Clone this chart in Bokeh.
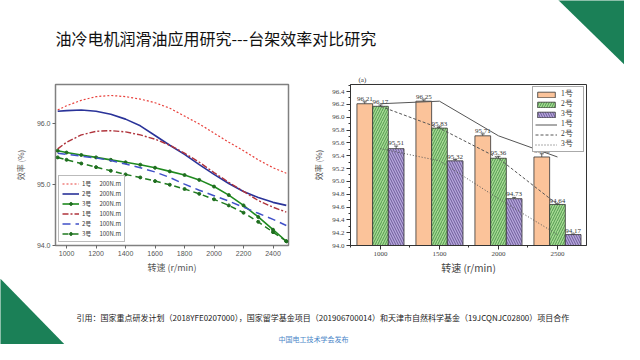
from bokeh.plotting import figure
from bokeh.layouts import column, row
from bokeh.models import (Range1d, ColumnDataSource, Legend, LegendItem, FixedTicker,
                          NumeralTickFormatter, Whisker, TeeHead)
from bokeh.core.properties import value
from bokeh.embed import file_html
from bokeh.resources import INLINE

# ---------------- data ----------------
slide_title = "油冷电机润滑油应用研究---台架效率对比研究"
footer_text = ("引用：国家重点研发计划（2018YFE0207000），国家留学基金项目（201906700014）"
               "和天津市自然科学基金（19JCQNJC02800）项目合作")
publisher = "中国电工技术学会发布"
x_label = "转速 (r/min)"
y_label = "效率 (%)"

# left chart: efficiency curves
speed = [940, 1000, 1100, 1200, 1300, 1400, 1500, 1600, 1700, 1800, 1900, 2000, 2100, 2200, 2300, 2400, 2490]
eff_1_200 = [96.23, 96.30, 96.39, 96.45, 96.47, 96.45, 96.41, 96.35, 96.26, 96.13, 96.00, 95.85, 95.70, 95.56, 95.41, 95.28, 95.19]
eff_2_200 = [96.21, 96.22, 96.23, 96.21, 96.16, 96.08, 95.97, 95.81, 95.65, 95.50, 95.33, 95.17, 95.02, 94.89, 94.79, 94.71, 94.66]
eff_3_200 = [95.56, 95.53, 95.49, 95.45, 95.41, 95.37, 95.33, 95.28, 95.22, 95.16, 95.08, 94.97, 94.83, 94.66, 94.47, 94.26, 94.07]
eff_1_100 = [95.59, 95.70, 95.82, 95.88, 95.89, 95.87, 95.82, 95.75, 95.65, 95.52, 95.37, 95.20, 95.04, 94.89, 94.74, 94.63, 94.55]
eff_2_100 = [95.52, 95.50, 95.47, 95.44, 95.40, 95.34, 95.28, 95.21, 95.12, 95.01, 94.91, 94.82, 94.73, 94.63, 94.53, 94.43, 94.33]
eff_3_100 = [95.45, 95.41, 95.35, 95.29, 95.23, 95.17, 95.12, 95.06, 95.00, 94.93, 94.85, 94.76, 94.66, 94.54, 94.39, 94.22, 94.07]
motor_names = ["1号", "2号", "3号", "1号", "2号", "3号"]
torque_names = ["200N.m", "200N.m", "200N.m", "100N.m", "100N.m", "100N.m"]
left_xticks = [1000, 1200, 1400, 1600, 1800, 2000, 2200, 2400]
left_yticks = [94.0, 95.0, 96.0]

# right chart: bench efficiency bars
bar_speeds = [1000, 1500, 2000, 2500]
bar_1 = [96.21, 96.25, 95.71, 95.38]
bar_2 = [96.17, 95.83, 95.36, 94.64]
bar_3 = [95.51, 95.32, 94.73, 94.17]
err_1 = [0.03, 0.02, 0.03, 0.05]
err_2 = [0.02, 0.02, 0.03, 0.01]
err_3 = [0.04, 0.02, 0.02, 0.01]
bar_names = ["1号", "2号", "3号"]
right_yticks = [94.0, 94.2, 94.4, 94.6, 94.8, 95.0, 95.2, 95.4, 95.6, 95.8, 96.0, 96.2, 96.4]
right_yminor = [94.1, 94.3, 94.5, 94.7, 94.9, 95.1, 95.3, 95.5, 95.7, 95.9, 96.1, 96.3, 96.5]
right_xminor = [750, 1250, 1750, 2250]
panel_tag = "(a)"

# decorative corner triangles (page pixel coordinates)
tri_top_x = [550, 632, 632]
tri_top_y = [-8, -8, 72]
tri_bot_x = [-8, -8, 72]
tri_bot_y = [270, 352, 352]

GREEN = "#1b8057"
CJK = value("Noto Sans CJK SC")
SERIF = value("Liberation Serif")

# ---------------- header ----------------
hdr = figure(width=624, height=66, x_range=Range1d(0, 624), y_range=Range1d(66, 0),
             output_backend="svg", toolbar_location=None, min_border=0,
             x_axis_location=None, y_axis_location=None)
hdr.grid.visible = False
hdr.outline_line_color = None
hdr.patch(tri_top_x, tri_top_y, fill_color=GREEN, line_color=None)
hdr.text(x=[55], y=[37], text=[slide_title], text_font=CJK, text_font_size="16px",
         text_baseline="middle", text_align="left", text_color="#111111")

# ---------------- left chart ----------------
pl = figure(width=302, height=211, x_range=Range1d(925, 2505), y_range=Range1d(94.0, 96.65),
            output_backend="svg", toolbar_location=None,
            min_border_left=55, min_border_right=14, min_border_top=9, min_border_bottom=27)
pl.grid.visible = False
pl.outline_line_color = "#808080"
pl.outline_line_width = 1.5
pl.xaxis.ticker = FixedTicker(ticks=left_xticks)
pl.yaxis.ticker = FixedTicker(ticks=left_yticks)
pl.yaxis.formatter = NumeralTickFormatter(format="0.0")
for ax in (pl.xaxis[0], pl.yaxis[0]):
    ax.axis_line_color = None
    ax.major_tick_line_color = "#666666"
    ax.major_tick_in = 0
    ax.major_tick_out = 3
    ax.minor_tick_line_color = None
    ax.major_label_text_font_size = "7px"
    ax.major_label_text_color = "#555555"
    ax.major_label_text_font = "Liberation Sans"
    ax.major_label_standoff = 2
    ax.axis_label_text_font = "Noto Sans CJK SC"
    ax.axis_label_text_font_style = "normal"
    ax.axis_label_text_color = "#555555"
pl.xaxis.axis_label = x_label
pl.xaxis.axis_label_text_font_size = "9px"
pl.xaxis.axis_label_standoff = 2
pl.yaxis.axis_label = y_label
pl.yaxis.axis_label_text_font_size = "8px"
pl.yaxis.axis_label_standoff = 8

src_l = ColumnDataSource(dict(x=speed, a=eff_1_200, b=eff_2_200, c=eff_3_200,
                              d=eff_1_100, e=eff_2_100, f=eff_3_100))
r_a = pl.line("x", "a", source=src_l, line_color="#e8413c", line_width=1.2, line_dash="2 2")
r_b = pl.line("x", "b", source=src_l, line_color="#2a3399", line_width=1.6)
r_c = pl.line("x", "c", source=src_l, line_color="#1f8a1f", line_width=1.6)
r_cm = pl.scatter("x", "c", source=src_l, size=3, marker="circle", color="#1f6e1f")
r_d = pl.line("x", "d", source=src_l, line_color="#b0343c", line_width=1.4, line_dash="6 2 2 2")
r_e = pl.line("x", "e", source=src_l, line_color="#4050c8", line_width=1.5, line_dash="8 5")
r_f = pl.line("x", "f", source=src_l, line_color="#1f7a1f", line_width=1.5, line_dash="6 4")
r_fm = pl.scatter("x", "f", source=src_l, size=3, marker="circle", color="#1f6e1f")

gap = "\u00a0" * 6
left_items = []
for name, torque, rs in zip(motor_names, torque_names,
                            [[r_a], [r_b], [r_c, r_cm], [r_d], [r_e], [r_f, r_fm]]):
    left_items.append(LegendItem(label=name + gap + torque, renderers=rs))
leg_l = Legend(items=left_items, location="bottom_left", glyph_width=17, glyph_height=7,
               label_height=7, label_standoff=3, spacing=1, padding=3, margin=3,
               label_text_font_size="6px", label_text_font="Noto Sans CJK SC",
               label_text_color="#333333", border_line_color="#777777",
               border_line_width=1, background_fill_color="white", background_fill_alpha=1)
pl.add_layout(leg_l)

# ---------------- right chart ----------------
pr = figure(width=322, height=211, x_range=Range1d(746, 2746), y_range=Range1d(94.0, 96.51),
            output_backend="svg", toolbar_location=None,
            min_border_left=48, min_border_right=38, min_border_top=18, min_border_bottom=29)
pr.grid.visible = False
pr.outline_line_color = "#333333"
pr.outline_line_width = 1
pr.title.text = panel_tag
pr.title.text_font_size = "7px"
pr.title.text_font = "Liberation Serif"
pr.title.text_font_style = "normal"
pr.title.text_color = "#333333"
pr.title.standoff = 1
pr.title.offset = 8
pr.xaxis.ticker = FixedTicker(ticks=bar_speeds, minor_ticks=right_xminor)
pr.yaxis.ticker = FixedTicker(ticks=right_yticks, minor_ticks=right_yminor)
pr.yaxis.formatter = NumeralTickFormatter(format="0.0")
for ax in (pr.xaxis[0], pr.yaxis[0]):
    ax.axis_line_color = "#333333"
    ax.major_tick_line_color = "#333333"
    ax.minor_tick_line_color = "#333333"
    ax.major_tick_in = 0
    ax.major_tick_out = 4
    ax.minor_tick_in = 0
    ax.minor_tick_out = 2
    ax.major_label_text_font_size = "7px"
    ax.major_label_text_color = "#444444"
    ax.major_label_text_font = "Liberation Serif"
    ax.major_label_standoff = 2
    ax.axis_label_text_font = "Noto Sans CJK SC"
    ax.axis_label_text_font_style = "normal"
    ax.axis_label_text_color = "#444444"
pr.xaxis.axis_label = x_label
pr.xaxis.axis_label_text_font_size = "10px"
pr.xaxis.axis_label_standoff = 1
pr.yaxis.axis_label = y_label
pr.yaxis.axis_label_text_font_size = "8px"
pr.yaxis.axis_label_standoff = 5

BW = 133
fills = ["#fbc39a", "#a6da93", "#b7a7dc"]
hatches = [None, "/", "\\"]
hatch_cols = ["#333333", "#2e7d32", "#4b3a7a"]
series = [bar_1, bar_2, bar_3]
errs = [err_1, err_2, err_3]
offsets = [-BW, 0, BW]
bar_renderers = []
for vals, er, off, fc, hp, hc in zip(series, errs, offsets, fills, hatches, hatch_cols):
    xs = [s + off for s in bar_speeds]
    src = ColumnDataSource(dict(x=xs, top=vals, lo=[v - e for v, e in zip(vals, er)],
                                hi=[v + e for v, e in zip(vals, er)],
                                lab=["%.2f" % v for v in vals]))
    kw = dict(fill_color=fc, line_color="#333333", line_width=0.8)
    if hp:
        kw.update(hatch_pattern=hp, hatch_color=hc, hatch_scale=5, hatch_weight=0.7)
    r = pr.vbar(x="x", top="top", bottom=94.0, width=BW, source=src, **kw)
    bar_renderers.append(r)
    wk = Whisker(source=src, base="x", lower="lo", upper="hi", line_color="#333333",
                 line_width=0.8,
                 lower_head=TeeHead(size=4, line_color="#333333", line_width=0.8),
                 upper_head=TeeHead(size=4, line_color="#333333", line_width=0.8))
    pr.add_layout(wk)
    pr.text(x="x", y="hi", text="lab", source=src, text_font=SERIF, text_font_size="7px",
            text_align="center", text_baseline="bottom", text_color="#333333", y_offset=-1)

line_styles = [("solid", "#555555"), ("3 2", "#555555"), ("1 2", "#555555")]
line_renderers = []
for vals, (dash, col) in zip(series, line_styles):
    lr = pr.line(bar_speeds, vals, line_color=col, line_width=1, line_dash=dash)
    line_renderers.append(lr)

right_items = [LegendItem(label=n, renderers=[r]) for n, r in zip(bar_names, bar_renderers)]
right_items += [LegendItem(label=n, renderers=[r]) for n, r in zip(bar_names, line_renderers)]
leg_r = Legend(items=right_items, location="top_right", glyph_width=22, glyph_height=7,
               label_height=7, label_standoff=4, spacing=0, padding=2, margin=2,
               label_text_font_size="7.5px", label_text_line_height=1.0,
               label_text_font="Liberation Serif",
               label_text_color="#333333", border_line_color="#555555",
               border_line_width=1, background_fill_color="white", background_fill_alpha=1)
pr.add_layout(leg_r)

# ---------------- footer ----------------
ftr = figure(width=624, height=67, x_range=Range1d(0, 624), y_range=Range1d(344, 277),
             output_backend="svg", toolbar_location=None, min_border=0,
             x_axis_location=None, y_axis_location=None)
ftr.grid.visible = False
ftr.outline_line_color = None
ftr.patch(tri_bot_x, tri_bot_y, fill_color=GREEN, line_color=None)
ftr.text(x=[76], y=[317], text=[footer_text], text_font=CJK, text_font_size="8px",
         text_baseline="middle", text_align="left", text_color="#222222")
ftr.text(x=[313], y=[338], text=[publisher], text_font=CJK, text_font_size="7px",
         text_baseline="middle", text_align="center", text_color="#4a86c8")

layout = column(hdr, row(pl, pr), ftr)
open("out.html", "w").write(file_html(layout, INLINE))
